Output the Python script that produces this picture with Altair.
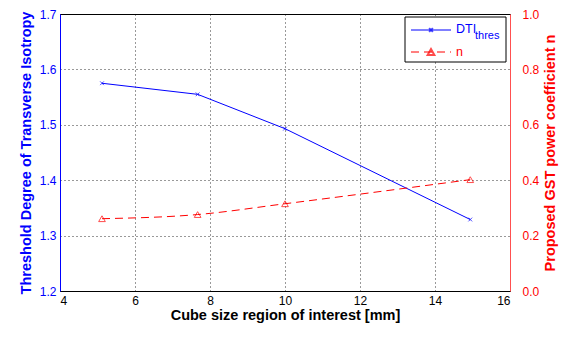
import altair as alt
import pandas as pd

cube_size = [5.12, 7.67, 10.0, 14.94]
dti_thres = [1.575, 1.555, 1.493, 1.329]
n_coef = [0.261, 0.276, 0.315, 0.402]

df = pd.DataFrame({"x": cube_size, "dti": dti_thres, "n": n_coef})
one = pd.DataFrame({"a": [0]})

FONT = "Liberation Sans"
W, H = 450, 277
XSHAPE = "M-1,-1L1,1M-1,1L1,-1"

xenc = alt.X("x:Q", scale=alt.Scale(domain=[4, 16]),
             axis=alt.Axis(values=[4, 6, 8, 10, 12, 14, 16], title="Cube size region of interest [mm]",
                           grid=True, gridDash=[1, 3], gridColor="black", gridOpacity=0.8,
                           domainColor="black", ticks=False, labelPadding=4,
                           labelColor="black", titleColor="black", titlePadding=2))

yleft = alt.Y("dti:Q", scale=alt.Scale(domain=[1.2, 1.7]),
              axis=alt.Axis(values=[1.2, 1.3, 1.4, 1.5, 1.6, 1.7], format=".1f",
                            title="Threshold Degree of Transverse Isotropy",
                            grid=True, gridDash=[1, 3], gridColor="black", gridOpacity=0.8,
                            domainColor="blue", labelColor="blue", titleColor="blue",
                            ticks=False, labelPadding=4, titlePadding=6))

yright = alt.Y("n:Q", scale=alt.Scale(domain=[0, 1]),
               axis=alt.Axis(orient="right", values=[0, 0.2, 0.4, 0.6, 0.8, 1],
                             title="Proposed GST power coefficient n", titleAngle=270,
                             titleBaseline="top",
                             grid=False, domainColor="#ff5050", labelColor="red", titleColor="red",
                             ticks=False, labelPadding=12, titlePadding=5))

blue_line = alt.Chart(df).mark_line(color="blue", strokeWidth=1).encode(x=xenc, y=yleft)
blue_pts = alt.Chart(df).mark_point(shape=XSHAPE, color="blue", size=14,
                                    strokeWidth=1, filled=False).encode(x="x:Q", y="dti:Q")
red_line = alt.Chart(df).mark_line(color="red", strokeDash=[8, 5], strokeWidth=1,
                                   interpolate="monotone").encode(x="x:Q", y=yright)
red_pts = alt.Chart(df).mark_point(shape="triangle-up", color="red", size=45,
                                   strokeWidth=1, filled=False).encode(x="x:Q", y="n:Q")

left_layer = alt.layer(blue_line, blue_pts)
right_layer = alt.layer(red_line, red_pts)

# legend
lx0, lx1, ly0, ly1 = 345, 446, 3, 48
leg_box = alt.Chart(one).mark_rect(fill="white", stroke="black", strokeWidth=1).encode(
    x=alt.value(lx0), x2=alt.value(lx1), y=alt.value(ly0), y2=alt.value(ly1))
leg_bline = alt.Chart(one).mark_rule(color="blue", strokeWidth=1).encode(
    x=alt.value(351), x2=alt.value(391), y=alt.value(16))
leg_bpt = alt.Chart(one).mark_point(shape=XSHAPE, color="blue", size=14, filled=False).encode(
    x=alt.value(371), y=alt.value(16))
leg_rline = alt.Chart(one).mark_rule(color="red", strokeWidth=1, strokeDash=[8, 5]).encode(
    x=alt.value(351), x2=alt.value(391), y=alt.value(38))
leg_rpt = alt.Chart(one).mark_point(shape="triangle-up", color="red", size=45, filled=False).encode(
    x=alt.value(371), y=alt.value(38))
leg_t1 = alt.Chart(one).mark_text(text="DTI", color="blue", font=FONT, fontSize=12.5, align="left",
                                  baseline="middle").encode(x=alt.value(396), y=alt.value(15))
leg_t1s = alt.Chart(one).mark_text(text="thres", color="blue", font=FONT, fontSize=11, align="left",
                                   baseline="middle").encode(x=alt.value(415), y=alt.value(22))
leg_t2 = alt.Chart(one).mark_text(text="n", color="red", font=FONT, fontSize=12.5, align="left",
                                  baseline="middle").encode(x=alt.value(396), y=alt.value(38))

legend = alt.layer(leg_box, leg_bline, leg_bpt, leg_rline, leg_rpt, leg_t1, leg_t1s, leg_t2)

chart = alt.layer(left_layer, right_layer, legend).resolve_scale(y="independent").properties(
    width=W, height=H,
    autosize=alt.AutoSizeParams(type="none"),
    padding={"left": 52, "top": 6, "right": 54, "bottom": 35},
).configure_view(stroke="black", strokeWidth=1).configure_axis(
    labelFont=FONT, titleFont=FONT, labelFontSize=12, titleFontSize=14.5, titleFontWeight="bold"
)

chart.save("out.html", embed_options={"renderer": "svg", "actions": False})
